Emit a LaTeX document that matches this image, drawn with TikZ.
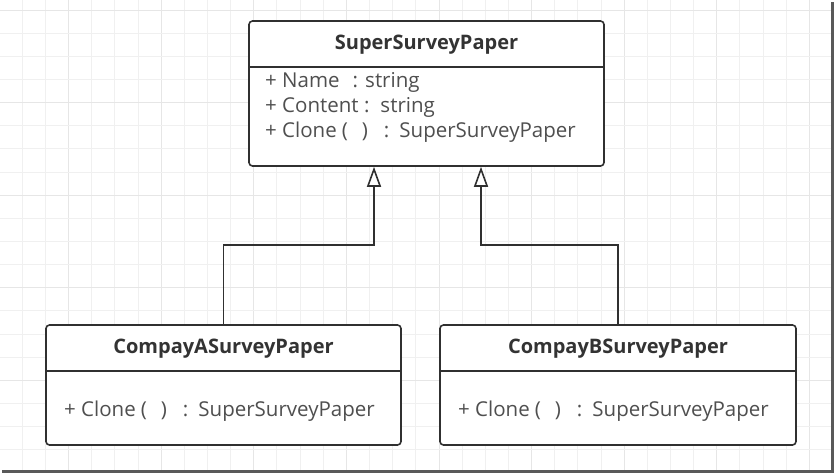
\documentclass[tikz,border=0pt]{standalone}
\usepackage{fontspec}
\setmainfont{Open Sans}
\usetikzlibrary{positioning, calc, arrows.meta}
\definecolor{linecol}{HTML}{303030}
\definecolor{namecol}{HTML}{333333}
\definecolor{membercol}{HTML}{4F4F4F}
\definecolor{gridcol}{HTML}{F0F0F0}
\definecolor{gridmajor}{HTML}{E6E6E6}
\tikzset{
  classbox/.style={draw=linecol, line width=1.6pt, rounded corners=3.5pt, fill=white},
  classname/.style={font=\fontsize{20}{24}\selectfont\bfseries, text=namecol},
  member/.style={font=\fontsize{20.5}{24}\selectfont, text=membercol, anchor=west, inner sep=0pt},
  inherit/.style={draw=linecol, line width=1.6pt, -{Triangle[fill=white, width=14pt, length=20pt]}},
}
\newcommand{\clonesig}{+ Clone\hspace{5pt}(\hspace{14pt})\hspace{16pt}:\hspace{10pt}SuperSurveyPaper}

\begin{document}
\begin{tikzpicture}[x=1pt, y=-1pt]
        \useasboundingbox (0,0) rectangle (835,475);
        %griglia di sfondo
        \foreach \k in {0,...,34}
          \draw[gridcol, line width=1pt] ({22.3+23.15*\k},0) -- ({22.3+23.15*\k},471);
        \foreach \k in {0,4,...,32}
          \draw[gridmajor, line width=1pt] ({68.6+23.15*\k},0) -- ({68.6+23.15*\k},471);
        \foreach \k in {0,...,19}
          \draw[gridcol, line width=1pt] (0,{10+23.15*\k}) -- (832,{10+23.15*\k});
        \foreach \k in {0,4,...,16}
          \draw[gridmajor, line width=1pt] (0,{10+23.15*\k}) -- (832,{10+23.15*\k});
        %cornice
        \draw[gray!70!black, line width=2.5pt] (2,471.5) -- (832.5,471.5) -- (832.5,2);
        %classe base
        \node[classbox, minimum width=355, minimum height=145] (super) at (426.5,93.5) {};
        \draw[linecol, line width=1.6pt] ($(super.north west)+(0,47)$) -- ($(super.north east)+(0,47)$);
        \node[classname] (superName) at (426.5,45) {SuperSurveyPaper};
        \node[member] (superNameAttr) at (265,82.5) {+ Name\hspace{13pt}: string};
        \node[member] (superContent) at (265,107.5) {+ Content :\hspace{11pt}string};
        \node[member] (superClone) at (265,132.5) {\clonesig};
        %classi derivate
        \node[classbox, minimum width=355, minimum height=120] (compA) at (223.5,385) {};
        \draw[linecol, line width=1.6pt] ($(compA.north west)+(0,47)$) -- ($(compA.north east)+(0,47)$);
        \node[classname] (compAName) at (223.5,349) {CompayASurveyPaper};
        \node[member] (compAClone) at (64,411.5) {\clonesig};
        \node[classbox, minimum width=356, minimum height=120] (compB) at (618,385) {};
        \draw[linecol, line width=1.6pt] ($(compB.north west)+(0,47)$) -- ($(compB.north east)+(0,47)$);
        \node[classname] (compBName) at (618,349) {CompayBSurveyPaper};
        \node[member] (compBClone) at (458,411.5) {\clonesig};
        %frecce di ereditarieta
        \coordinate (tipA) at ($(super.south)+(-52.5,0)$);
        \coordinate (tipB) at ($(super.south)+(54.5,0)$);
        \draw[inherit] (compA.north) -- ++(0,-79) -| (tipA);
        \draw[inherit] (compB.north) -- ++(0,-79) -| (tipB);
    \end{tikzpicture}
\end{document}
